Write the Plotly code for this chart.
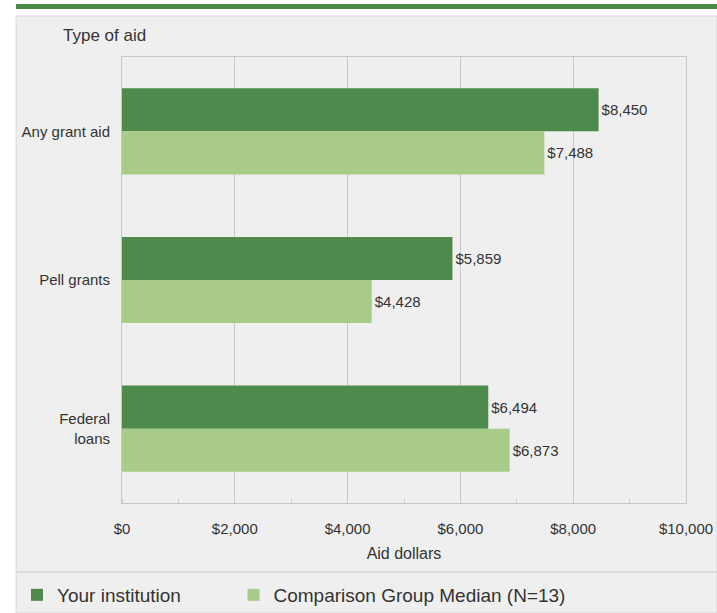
import plotly.graph_objects as go

categories = ["Any grant aid", "Pell grants", "Federal<br>loans"]
your_institution = [8450, 5859, 6494]
comparison_median = [7488, 4428, 6873]
series_names = ["Your institution", "Comparison Group Median (N=13)"]
x_ticks = [0, 2000, 4000, 6000, 8000, 10000]
x_tick_labels = ["$0", "$2,000", "$4,000", "$6,000", "$8,000", "$10,000"]

DARK = "#4e8a4c"
LIGHT = "#a9cb89"
PANEL = "#efefef"
GRID = "#c8c8c8"
TEXT = "#333333"
FONT = "Liberation Sans, Arial, sans-serif"

W, H = 717, 613
# plot area in pixels
PL, PR, PT, PB = 122, 686, 57, 503
PW, PH = PR - PL, PB - PT


def px_x(x):
    return (x - PL) / PW


def px_y(y):
    return (PB - y) / PH


# trailing non-breaking spaces widen the first legend entry
legend_names = [series_names[0] + "&nbsp;" * 9, series_names[1]]

fig = go.Figure()
for name, vals, col in [(legend_names[0], your_institution, DARK),
                        (legend_names[1], comparison_median, LIGHT)]:
    fig.add_trace(go.Bar(
        name=name,
        y=categories,
        x=vals,
        orientation="h",
        marker=dict(color=col, line=dict(width=0)),
        text=[f"${v:,}" for v in vals],
        textposition="outside",
        textfont=dict(size=15, color=TEXT, family=FONT),
        cliponaxis=False,
    ))

fig.update_layout(
    width=W, height=H,
    autosize=False,
    paper_bgcolor="white",
    plot_bgcolor=PANEL,
    font=dict(family=FONT, size=15, color=TEXT),
    barmode="group",
    bargap=0.42,
    bargroupgap=0,
    margin=dict(l=PL, r=W - PR, t=PT, b=H - PB),
    xaxis=dict(
        range=[0, 10000],
        tickvals=x_ticks,
        ticktext=x_tick_labels,
        showgrid=True, gridcolor=GRID, gridwidth=1,
        showline=True, linecolor=GRID, mirror=True,
        zeroline=False,
        automargin=False,
        ticks="", ticklabelstandoff=12,
        minor=dict(dtick=1000, ticks="inside", ticklen=4, tickcolor=GRID, showgrid=False),
        title=dict(text="Aid dollars", font=dict(size=16), standoff=11),
        fixedrange=True,
    ),
    yaxis=dict(
        range=[2.5, -0.5],
        showgrid=False,
        showline=True, linecolor=GRID, mirror=True,
        automargin=False,
        ticks="", ticklabelstandoff=8,
        tickfont=dict(size=15),
        fixedrange=True,
    ),
    legend=dict(
        orientation="h",
        xref="container", yref="container",
        x=17 / W, y=18 / H, xanchor="left", yanchor="middle",
        font=dict(size=19, color=TEXT),
        bgcolor="rgba(0,0,0,0)",
    ),
    shapes=[
        # grey panel
        dict(type="rect", xref="paper", yref="paper", layer="below",
             x0=px_x(16), x1=px_x(717), y0=px_y(613), y1=px_y(16),
             line=dict(color="#d6d6d6", width=1), fillcolor=PANEL),
        # green strip on top
        dict(type="rect", xref="paper", yref="paper", layer="above",
             x0=px_x(16), x1=px_x(717), y0=px_y(9), y1=px_y(4),
             line=dict(width=0), fillcolor="#4c8a4a"),
        # separator above legend
        dict(type="line", xref="paper", yref="paper", layer="above",
             x0=px_x(16), x1=px_x(717), y0=px_y(572), y1=px_y(572),
             line=dict(color="#d4d4d4", width=1.5)),
    ],
    annotations=[
        dict(text="Type of aid", xref="paper", yref="paper",
             x=px_x(61), y=px_y(35),
             xanchor="left", yanchor="middle", showarrow=False,
             font=dict(size=17, color=TEXT)),
    ],
)

fig.write_html("out.html",
               config={"displayModeBar": False, "responsive": False},
               post_script="document.body.style.margin='0';")
